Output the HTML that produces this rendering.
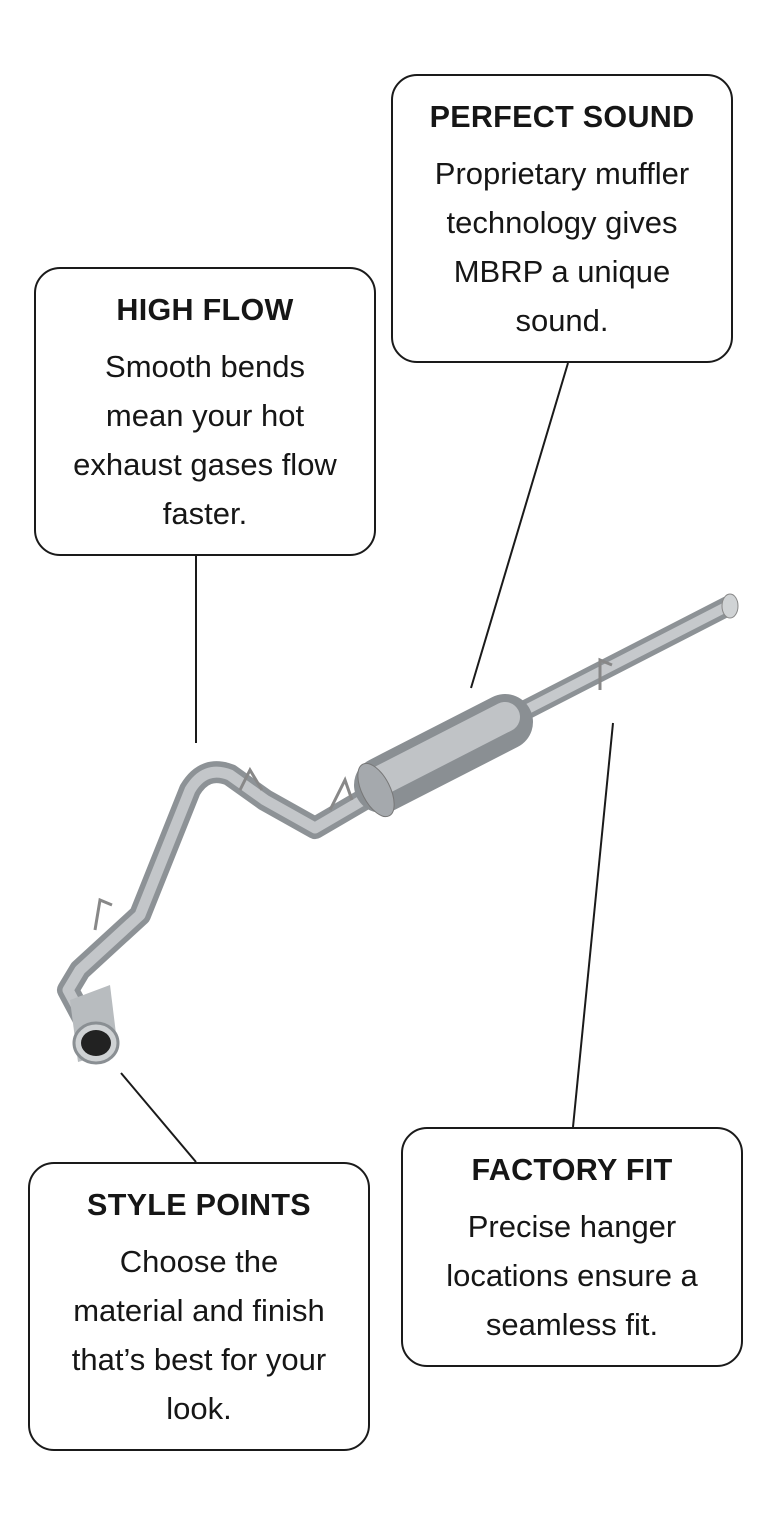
<!DOCTYPE html>
<html><head><meta charset="utf-8"><style>
html,body{margin:0;padding:0;background:#fff;}
body{width:768px;height:1516px;position:relative;overflow:hidden;font-family:"Liberation Sans",sans-serif;color:#161616;}
.box{position:absolute;border:2px solid #1a1a1a;border-radius:26px;box-sizing:border-box;text-align:center;}
.t{position:absolute;left:0;right:0;font-weight:bold;font-size:30.5px;letter-spacing:0.3px;}
.l{position:absolute;left:0;right:0;font-size:31px;}
</style></head><body>
<svg width="768" height="1516" style="position:absolute;left:0;top:0">
<g stroke="#1a1a1a" stroke-width="2" fill="none">
<line x1="568" y1="363" x2="471" y2="688"/>
<line x1="196" y1="556" x2="196" y2="743"/>
<line x1="121" y1="1073" x2="196" y2="1162"/>
<line x1="613" y1="723" x2="573" y2="1127"/>
</g>
<g fill="none" stroke-linecap="round" stroke-linejoin="round">
<path d="M92 1035 L68 990 L80 970 L140 915 L190 790 Q205 765 230 775 L265 800 L315 828 L380 790" stroke="#8d9296" stroke-width="22"/>
<path d="M92 1035 L68 990 L80 970 L140 915 L190 790 Q205 765 230 775 L265 800 L315 828 L380 790" stroke="#c3c6c9" stroke-width="11"/>
<path d="M510 718 L728 606" stroke="#8d9296" stroke-width="20"/>
<path d="M510 718 L728 606" stroke="#c6c9cc" stroke-width="10"/>
<path d="M382 785 L505 722" stroke="#8a8f93" stroke-width="56"/>
<path d="M382 780 L505 717" stroke="#c0c3c6" stroke-width="30"/>
</g>
<ellipse cx="376" cy="790" rx="14" ry="29" fill="#a5a9ad" stroke="#777" transform="rotate(-27 376 790)"/>
<ellipse cx="730" cy="606" rx="8" ry="12" fill="#d0d3d5" stroke="#888"/>
<path d="M70 1000 L110 985 L118 1050 L78 1062 Z" fill="#b8bcbf"/>
<ellipse cx="96" cy="1043" rx="22" ry="20" fill="#cfd2d4" stroke="#8a8f93" stroke-width="3"/>
<ellipse cx="96" cy="1043" rx="15" ry="13" fill="#222"/>
<g stroke="#888" stroke-width="3" fill="none">
<path d="M95 930 L100 900 L112 905"/><path d="M240 790 L250 770 L262 790"/>
<path d="M330 810 L345 780 L352 800"/><path d="M600 690 L600 660 L612 665"/>
</g>
</svg>

<div class="box" style="left:391px;top:74px;width:342px;height:289px">
<div class="t" style="top:24px">PERFECT SOUND</div>
<div class="l" style="top:80px">Proprietary muffler</div>
<div class="l" style="top:129px">technology gives</div>
<div class="l" style="top:178px">MBRP a unique</div>
<div class="l" style="top:227px">sound.</div>
</div>

<div class="box" style="left:34px;top:267px;width:342px;height:289px">
<div class="t" style="top:24px">HIGH FLOW</div>
<div class="l" style="top:80px">Smooth bends</div>
<div class="l" style="top:129px">mean your hot</div>
<div class="l" style="top:178px">exhaust gases flow</div>
<div class="l" style="top:227px">faster.</div>
</div>

<div class="box" style="left:28px;top:1162px;width:342px;height:289px">
<div class="t" style="top:24px">STYLE POINTS</div>
<div class="l" style="top:80px">Choose the</div>
<div class="l" style="top:129px">material and finish</div>
<div class="l" style="top:178px">that’s best for your</div>
<div class="l" style="top:227px">look.</div>
</div>

<div class="box" style="left:401px;top:1127px;width:342px;height:240px">
<div class="t" style="top:24px">FACTORY FIT</div>
<div class="l" style="top:80px">Precise hanger</div>
<div class="l" style="top:129px">locations ensure a</div>
<div class="l" style="top:178px">seamless fit.</div>
</div>
</body></html>
